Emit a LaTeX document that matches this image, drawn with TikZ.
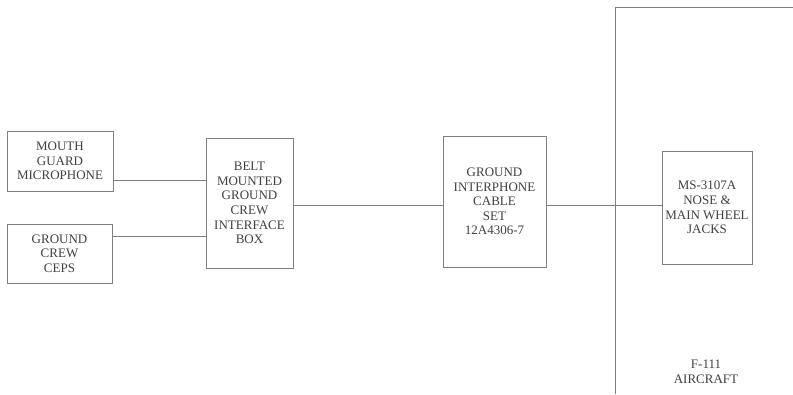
\documentclass[tikz,border=0pt]{standalone}
\usepackage{fontspec}
\setmainfont{Liberation Serif}
\usetikzlibrary{calc}
\begin{document}
\begin{tikzpicture}[x=1pt,y=-1pt]
%styles
\tikzstyle{unit}=[rectangle, draw=black!50, line width=0.9pt, text=black!75, align=center, inner sep=0pt, font=\fontsize{13}{14.6}\selectfont]
\tikzstyle{wire}=[draw=black!50, line width=0.9pt]
\tikzstyle{textLine}=[rectangle, text=black!75, align=center, font=\fontsize{13}{14.6}\selectfont]
%figure
\useasboundingbox (0,0) rectangle (793,394);

\node[unit, minimum width=106pt, minimum height=60pt] (mic) at (60,161) {MOUTH\\GUARD\\MICROPHONE};
\node[unit, minimum width=105pt, minimum height=59pt] (ceps) at (59.5,253.5) {GROUND\\CREW\\CEPS};
\node[unit, minimum width=87pt, minimum height=130pt] (belt) at (249.5,203) {BELT\\MOUNTED\\GROUND\\CREW\\INTERFACE\\BOX};
\node[unit, minimum width=103pt, minimum height=131pt] (cable) at (494.5,201.5) {GROUND\\INTERPHONE\\CABLE\\SET\\12A4306-7};
\node[unit, minimum width=90pt, minimum height=113pt] (jacks) at (707,207.5) {MS-3107A\\NOSE \&\\MAIN WHEEL\\JACKS};

%aircraft
\coordinate (acbot) at (615,394);
\coordinate (actop) at (615,7);
\coordinate (acright) at (793,7);
\draw[wire] (acbot) -- (actop) -- (acright);
\node[textLine] (aircraft) at (706,372) {F-111\\AIRCRAFT};

%wires
\draw[wire] ([yshift=-19pt]mic.east) -- ([yshift=-19pt]mic.east -| belt.west);
\draw[wire] ([yshift=17.5pt]ceps.east) -- ([yshift=17.5pt]ceps.east -| belt.west);
\draw[wire] ([yshift=-2pt]belt.east) -- ([yshift=-2pt]belt.east -| cable.west);
\draw[wire] ([yshift=-3.5pt]cable.east) -- ([yshift=-3.5pt]cable.east -| jacks.west);

\end{tikzpicture}
\end{document}
